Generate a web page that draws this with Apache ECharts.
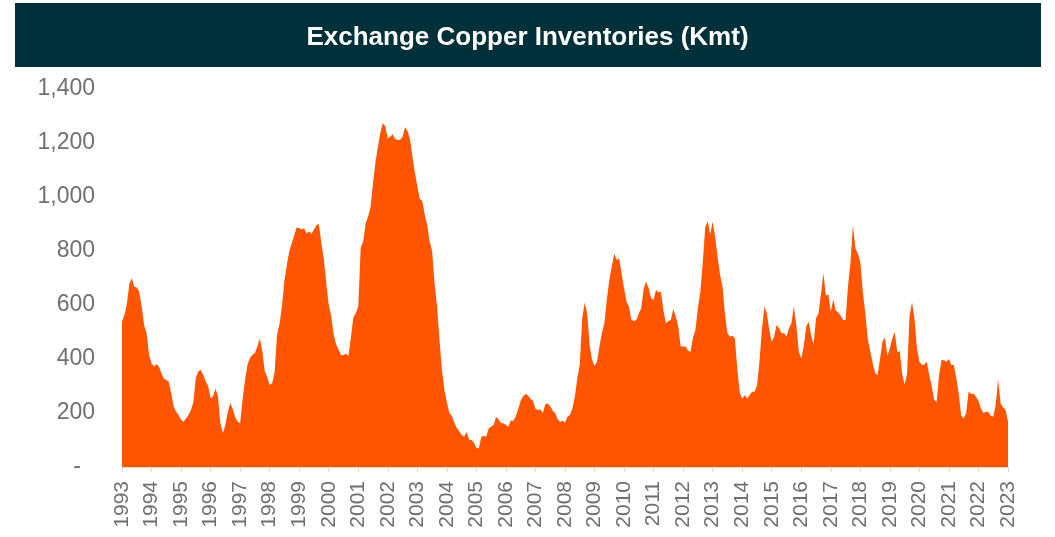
<!DOCTYPE html>
<html>
<head>
<meta charset="utf-8">
<script src="https://cdn.jsdelivr.net/npm/echarts@6/dist/echarts.min.js"></script>
<style>
  html, body { margin: 0; padding: 0; background: #fff; }
  #chart { width: 1055px; height: 537px; }
</style>
</head>
<body>
<div id="chart"></div>
<script>
// years shown on the x axis (one tick each January)
var years = []
for (var y = 1993; y <= 2023; y++) years.push(String(y))

// monthly exchange copper stocks, Kmt (Jan 1993 .. Jan 2023)
var inventory = [
  538, 563, 606, 680, 699, 668, 665, 649, 594, 525, 495, 415, // 1993
  384, 372, 381, 372, 347, 328, 322, 316, 273, 223, 205, 193, // 1994
  174, 168, 180, 193, 211, 240, 330, 355, 359, 341, 318, 300, // 1995
  255, 262, 291, 260, 160, 125, 156, 205, 236, 215, 184, 168, // 1996
  162, 250, 322, 380, 404, 416, 422, 446, 477, 430, 355, 333, // 1997
  304, 310, 350, 490, 530, 595, 690, 750, 800, 830, 858, 888, // 1998
  884, 880, 884, 865, 872, 863, 880, 895, 900, 830, 770, 680, // 1999
  600, 560, 490, 455, 435, 414, 415, 419, 411, 480, 555, 569, // 2000
  594, 812, 835, 902, 927, 964, 1051, 1130, 1186, 1240, 1273, 1262, // 2001
  1217, 1223, 1232, 1215, 1211, 1212, 1223, 1258, 1245, 1215, 1150, 1090, // 2002
  1040, 993, 985, 935, 895, 835, 800, 680, 595, 470, 360, 285, // 2003
  240, 200, 190, 165, 145, 132, 119, 112, 130, 102, 100, 90, // 2004
  69, 69, 112, 115, 112, 143, 150, 156, 185, 177, 162, 162, // 2005
  156, 149, 172, 170, 188, 215, 245, 262, 270, 265, 252, 245, // 2006
  215, 212, 213, 200, 232, 235, 225, 208, 200, 178, 167, 172, // 2007
  164, 186, 193, 217, 260, 328, 380, 551, 609, 569, 450, 396, // 2008
  374, 390, 446, 495, 532, 619, 693, 742, 791, 767, 773, 717, // 2009
  662, 612, 594, 544, 541, 544, 569, 588, 662, 686, 662, 625, // 2010
  619, 656, 646, 649, 581, 532, 541, 544, 585, 557, 520, 446, // 2011
  446, 446, 431, 427, 480, 507, 590, 649, 760, 890, 909, 860, // 2012
  909, 853, 779, 711, 668, 565, 495, 483, 486, 477, 365, 275, // 2013
  254, 266, 254, 266, 279, 279, 300, 390, 507, 594, 569, 507, // 2014
  464, 483, 526, 514, 495, 495, 483, 514, 532, 594, 525, 427, // 2015
  402, 446, 520, 538, 489, 452, 551, 569, 640, 718, 635, 640, // 2016
  575, 620, 580, 573, 560, 544, 544, 670, 757, 895, 810, 790, // 2017
  757, 650, 570, 475, 430, 385, 349, 340, 400, 464, 480, 410, // 2018
  440, 477, 500, 425, 430, 345, 305, 345, 560, 610, 550, 440, // 2019
  390, 378, 380, 390, 340, 300, 250, 240, 340, 396, 395, 390, // 2020
  400, 378, 378, 330, 270, 190, 180, 200, 280, 270, 272, 260, // 2021
  245, 217, 200, 205, 205, 190, 186, 230, 325, 236, 220, 211, // 2022
  168 // 2023
]

// month categories built from the year list; only January carries the year label
var months = []
years.forEach(function (yr, i) {
  var n = i === years.length - 1 ? 1 : 12
  for (var m = 0; m < n; m++) months.push(m === 0 ? yr : yr + '-' + (m + 1))
})

var isJan = function (index) { return index % 12 === 0 }

var myChart = echarts.init(document.getElementById('chart'))
myChart.setOption({
  animation: false,
  graphic: [
    {
      type: 'rect',
      shape: { x: 15, y: 3, width: 1026, height: 64 },
      style: { fill: '#00303a' },
      z: 0
    }
  ],
  title: {
    text: 'Exchange Copper Inventories (Kmt)',
    left: 'center',
    top: 20,
    textStyle: {
      color: '#ffffff',
      fontFamily: 'Liberation Sans, Arial, sans-serif',
      fontWeight: 'bold',
      fontSize: 26
    }
  },
  grid: {
    left: 122,
    right: 47,
    top: 89,
    bottom: 70
  },
  xAxis: {
    type: 'category',
    boundaryGap: false,
    data: months,
    axisLine: { lineStyle: { color: '#d9d9d9', width: 1 } },
    axisTick: { interval: isJan, length: 5, lineStyle: { color: '#d9d9d9' } },
    axisLabel: {
      interval: isJan,
      rotate: 90,
      margin: 14,
      color: '#707070',
      fontFamily: 'Liberation Sans, Arial, sans-serif',
      fontSize: 21,
      formatter: function (v) { return v.slice(0, 4) }
    }
  },
  yAxis: {
    type: 'value',
    min: 0,
    max: 1400,
    interval: 200,
    axisLine: { show: false },
    axisTick: { show: false },
    splitLine: { show: false },
    axisLabel: {
      margin: 27,
      color: '#707070',
      fontFamily: 'Liberation Sans, Arial, sans-serif',
      fontSize: 23,
      formatter: function (v) {
        return v === 0 ? '{z|-}' : v.toLocaleString('en-US')
      },
      rich: {
        z: { padding: [0, 14, 0, 0], color: '#707070', fontSize: 23 }
      }
    }
  },
  series: [
    {
      name: 'Inventories',
      type: 'line',
      data: inventory,
      showSymbol: false,
      lineStyle: { width: 0 },
      areaStyle: { color: '#ff5500', opacity: 1 }
    }
  ]
})
</script>
</body>
</html>
